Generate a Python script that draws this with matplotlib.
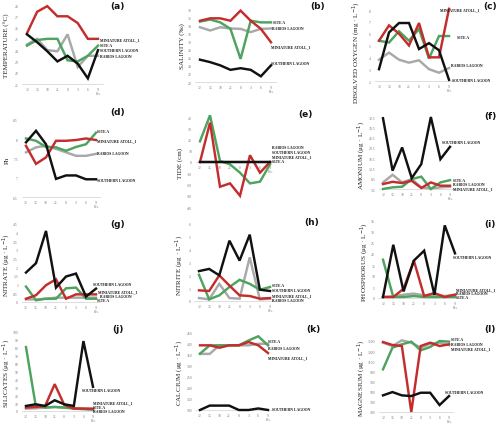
import matplotlib
matplotlib.use("Agg")
import matplotlib.pyplot as plt

W, H = 500, 427
fig = plt.figure(figsize=(5, 4.27), dpi=100)

hours = ["12", "15", "18", "21", "0", "3", "6", "9"]
MA, SA, RL, SL = "MINIATURE ATOLL_1", "SITE A", "RABIOS LAGOON", "SOUTHERN LAGOON"
COLORS = {MA: "#c42d2d", SA: "#4ea35e", RL: "#a9a9a9", SL: "#111111"}

temperature = {RL: [24.5, 25.0, 24.0, 23.9, 25.4, 22.5, 23.5, 23.5],
               SA: [24.4, 24.9, 25.0, 25.0, 23.1, 23.0, 23.5, 24.4],
               MA: [25.5, 27.4, 27.9, 27.0, 27.0, 26.4, 25.0, 25.0],
               SL: [25.4, 24.7, 23.9, 23.0, 23.5, 22.8, 21.5, 24.0]}
salinity = {RL: [33.5, 32.7, 33.5, 33.2, 33.1, 32.3, 33.1, 33.2],
            SA: [34.9, 35.4, 34.7, 33.1, 25.7, 35.1, 34.7, 34.7],
            MA: [35.1, 35.7, 35.7, 35.1, 37.6, 35.1, 33.1, 29.8],
            SL: [25.5, 24.9, 24.1, 23.0, 23.4, 23.0, 21.4, 24.1]}
oxygen = {RL: [3.8, 4.4, 3.8, 3.55, 3.75, 3.0, 2.7, 3.1],
          SA: [5.4, 5.25, 6.2, 5.4, 6.4, 3.9, 5.8, 5.8],
          MA: [5.4, 6.7, 6.0, 5.0, 6.9, 4.0, 4.0, 8.1],
          SL: [3.0, 6.1, 6.9, 6.9, 4.7, 5.2, 4.6, 2.1]}
ph = {RL: [7.66, 7.79, 7.83, 7.75, 7.66, 7.57, 7.57, 7.62],
      SA: [8.02, 7.96, 7.80, 7.79, 7.70, 7.80, 7.87, 8.17],
      MA: [7.83, 7.36, 7.53, 7.96, 7.96, 7.98, 8.02, 7.98],
      SL: [7.92, 8.22, 7.87, 6.97, 7.06, 7.06, 6.96, 6.96]}
tide = {RL: [0, 0, 0, 0, 0, 0, 0, 0],
        SA: [18.4, 41.5, 0.9, -2.1, -9.5, -19.0, -17.5, -2.1],
        MA: [0, 35.0, -22.0, -19.0, -30.0, 6.0, -9.5, 0],
        SL: [0, 0, 0, 0, 0, 0, 0, 0]}
ammonium = {RL: [6.7, 10.4, 6.7, 8.3, 4.3, 3.5, 4.3, 4.6],
            SA: [3.5, 4.3, 4.6, 8.3, 9.5, 3.5, 6.7, 7.8],
            MA: [5.9, 7.0, 6.4, 7.5, 4.0, 6.7, 5.1, 5.1],
            SL: [37.9, 12.4, 23.7, 8.8, 15.6, 38.5, 18.0, 24.0]}
nitrate = {RL: [0.15, 0.15, 0.19, 0.25, 0.25, 0.25, 0.25, 0.25],
           SA: [0.89, 0.10, 0.19, 0.19, 0.79, 0.83, 0.19, 0.19],
           MA: [0.19, 0.39, 0.97, 1.31, 0.19, 0.44, 0.44, 0.44],
           SL: [1.70, 2.24, 4.10, 0.83, 1.47, 1.64, 0.31, 0.77]}
nitrite = {RL: [0.23, 0.13, 1.34, 0.23, 0.18, 3.40, 0.13, 0.18],
           SA: [2.04, 0.13, 0.44, 1.09, 1.65, 1.34, 0.88, 1.09],
           MA: [0.83, 0.78, 2.00, 1.20, 0.44, 0.39, 0.18, 0.23],
           SL: [2.33, 2.50, 2.00, 4.70, 3.15, 5.17, 0.88, 0.78]}
phosphorus = {RL: [0.45, 0.75, 1.5, 2.0, 1.2, 1.5, 0.9, 1.5],
              SA: [17.4, 0.45, 0.45, 0.9, 0.45, 0.45, 0.45, 0.45],
              MA: [0.45, 0.45, 4.2, 17.0, 0.9, 2.25, 0.45, 1.5],
              SL: [0.45, 24.2, 3.0, 17.0, 21.5, 1.5, 33.0, 20.3]}
silicates = {RL: [3.0, 3.4, 4.3, 5.1, 4.3, 3.0, 2.1, 1.3],
             SA: [80.9, 7.7, 4.3, 5.1, 4.3, 3.4, 3.0, 2.1],
             MA: [4.3, 5.1, 6.4, 34.0, 7.7, 3.0, 3.0, 3.0],
             SL: [6.4, 8.5, 6.4, 13.6, 8.5, 6.4, 88.5, 30.6]}
calcium = {RL: [355, 355, 394, 394, 394, 394, 401, 401],
           SA: [356, 394, 394, 394, 394, 416, 435, 394],
           MA: [394, 394, 383, 394, 394, 409, 394, 359],
           SL: [100, 120, 120, 120, 100, 100, 107, 100]}
magnesium = {RL: [1467, 1401, 1513, 1467, 1368, 1447, 1467, 1421],
             SA: [941, 1368, 1434, 1487, 1316, 1382, 1500, 1487],
             MA: [1480, 1421, 1401, 100, 1401, 1467, 1401, 1434],
             SL: [428, 493, 428, 414, 480, 480, 237, 414]}

yticks_a = [21, 22, 23, 24, 25, 26, 27, 28]
yticks_b = [20, 22, 24, 26, 28, 30, 32, 34, 36, 38]
yticks_c = [2, 3, 4, 5, 6, 7, 8]
yticks_d = [6.5, 7, 7.5, 8, 8.5]
yticks_e = [-40, -30, -20, -10, 0, 10, 20, 30, 40]
yticks_f = [3.5, 8.5, 13.5, 18.5, 23.5, 28.5, 33.5, 38.5]
yticks_g = [0, 0.5, 1, 1.5, 2, 2.5, 3, 3.5, 4, 4.5]
yticks_h = [0, 1, 2, 3, 4, 5, 6]
yticks_i = [0, 5, 10, 15, 20, 25, 30, 35]
yticks_j = [0, 10, 20, 30, 40, 50, 60, 70, 80, 90, 100]
yticks_k = [100, 150, 200, 250, 300, 350, 400, 450]
yticks_l = [100, 300, 500, 700, 900, 1100, 1300, 1500]

# layout: (data, yticks, ylabel, panel letter, x12px, x9px, (v_hi, px_hi), (v_lo, px_lo),
#          (ylabel_x, ylabel_y), letter_xy, label positions {series: (x, y)})
panels = [
    (temperature, yticks_a, "TEMPERATURE (°C)", "(a)", 27, 98, (28, 6), (21, 85), (7, 46), (117, 6),
     {MA: (100, 40), SA: (100, 46), SL: (100, 51), RL: (100, 57)}),
    (salinity, yticks_b, "SALINITY (‰)", "(b)", 200, 271, (38, 10), (20, 83), (182, 46), (318, 6),
     {SA: (273, 23), RL: (272, 29), MA: (271, 47), SL: (271, 64)}),
    (oxygen, yticks_c, "DISOLVED OXYGEN (mg · L$^{-1}$)", "(c)", 379, 449, (8, 11), (2, 82), (357, 53), (490, 6),
     {MA: (440, 10), SA: (457, 38), RL: (451, 66), SL: (452, 81)}),
    (ph, yticks_d, "Ph", "(d)", 26, 96, (8.5, 121), (6.5, 198), (7, 160), (118, 113),
     {SA: (97, 132), MA: (97, 141), RL: (97, 154), SL: (97, 181)}),
    (tide, yticks_e, "TIDE (cm)", "(e)", 200, 270, (40, 118), (0, 163), (180, 163), (305, 115),
     {RL: (272, 148), SL: (272, 153), MA: (272, 157), SA: (272, 162)}),
    (ammonium, yticks_f, "AMONIUM (μg · L$^{-1}$)", "(f)", 383, 450, (38.5, 118), (3.5, 190), (362, 155), (490, 117),
     {SL: (442, 143), SA: (453, 181), RL: (453, 185), MA: (453, 189)}),
    (nitrate, yticks_g, "NITRATE (μg · L$^{-1}$)", "(g)", 26, 96, (4.5, 225), (0, 303), (7, 265), (118, 225),
     {SL: (93, 285), MA: (98, 292), RL: (100, 297), SA: (97, 301)}),
    (nitrite, yticks_h, "NITRITE (μg · L$^{-1}$)", "(h)", 199, 270, (6, 225), (0, 302), (180, 265), (312, 223),
     {SA: (272, 286), SL: (272, 291), MA: (272, 296), RL: (272, 301)}),
    (phosphorus, yticks_i, "PHOSPHORUS (μg · L$^{-1}$)", "(i)", 383, 455, (35, 222), (0, 299), (365, 262), (490, 225),
     {SL: (453, 258), MA: (456, 290), RL: (456, 294), SA: (456, 298)}),
    (silicates, yticks_j, "SILICATES (μg · L$^{-1}$)", "(j)", 26, 93, (100, 333), (0, 412), (7, 373), (118, 330),
     {SL: (82, 391), MA: (93, 403), SA: (93, 408), RL: (93, 412)}),
    (calcium, yticks_k, "CALCIUM (μg · L$^{-1}$)", "(k)", 200, 268, (450, 334), (100, 411), (180, 373), (313, 330),
     {SA: (268, 342), RL: (268, 349), MA: (268, 358), SL: (272, 410)}),
    (magnesium, yticks_l, "MAGNESIUM (μg · L$^{-1}$)", "(l)", 383, 449, (1500, 342), (100, 413), (362, 378), (490, 330),
     {SA: (451, 340), RL: (451, 345), MA: (451, 349), SL: (445, 393)}),
]

SERIF = ["Liberation Serif", "DejaVu Serif"]
XPAD = 0.45

def fx(x):
    return x / W

def fy(y):
    return 1 - y / H

for (data, yt, ylab, letter, x12, x9, (vhi, phi), (vlo, plo), (ylx, yly), (lx, ly), labpos) in panels:
    sx = (x9 - x12) / 7.0
    left = x12 - XPAD * sx
    right = x9 + XPAD * sx
    ymin, ymax = min(yt), max(yt)
    sy = (plo - phi) / (vhi - vlo)
    top = phi - (ymax - vhi) * sy
    bottom = plo + (vlo - ymin) * sy
    ax = fig.add_axes([fx(left), fy(bottom), (right - left) / W, (bottom - top) / H])
    ax.set_xlim(-XPAD, 7 + XPAD)
    ax.set_ylim(ymin, ymax)
    ax.patch.set_alpha(0)
    for s in ["top", "right", "left"]:
        ax.spines[s].set_visible(False)
    ax.spines["bottom"].set_color("#d0d0d0")
    ax.spines["bottom"].set_linewidth(0.5)
    crosses = ymin < 0 < ymax
    if crosses:
        ax.spines["bottom"].set_position(("data", 0))
    ax.set_xticks(range(8))
    ax.set_xticklabels(hours, fontsize=2.7, color="#777777", family=SERIF)
    ax.set_yticks(yt)
    ax.set_yticklabels([("%g" % v) for v in yt], fontsize=2.7, color="#777777", family=SERIF)
    ax.tick_params(length=0, pad=2.5)
    for name in [RL, SA, MA, SL]:
        ax.plot(range(8), data[name], color=COLORS[name], lw=1.75, solid_joinstyle="miter",
                clip_on=False, zorder=3 if name != RL else 2)
    ybot = plo if crosses else bottom
    fig.text(fx(x9 - 2), fy(ybot + 9), "Hrs.", fontsize=2.4, color="#777777",
             family=SERIF, ha="left", va="center")
    fig.text(fx(ylx), fy(yly), ylab, rotation=90, fontsize=5.1,
             family=SERIF, ha="center", va="center", color="#222222")
    fig.text(fx(lx), fy(ly), letter, fontsize=6.5, fontweight="bold", ha="center",
             va="center", color="#111111")
    for name, (tx, ty) in labpos.items():
        fig.text(fx(tx), fy(ty), name, fontsize=2.7, fontweight="bold", family=SERIF,
                 ha="left", va="center", color="#111111")

fig.savefig("out.png", dpi=100)
